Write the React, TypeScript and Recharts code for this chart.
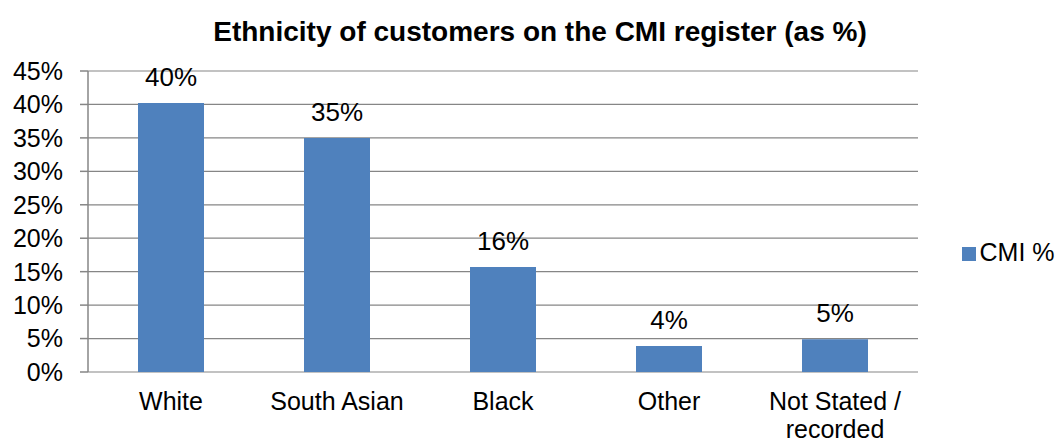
import { BarChart, Bar, XAxis, YAxis, CartesianGrid, Legend, LabelList } from "recharts"

const categories = ["White", "South Asian", "Black", "Other", "Not Stated / recorded"]
const cmiValues = [40.2, 35.0, 15.7, 3.9, 4.9]
const yTicks = [0, 5, 10, 15, 20, 25, 30, 35, 40, 45]
// category boundaries, for the tick marks between bars
const edgeTicks = [0, 1, 2, 3, 4, 5]

const data = categories.map((name, i) => ({ name, cmi: cmiValues[i] }))

const font = "'Liberation Sans', Arial, sans-serif"
const gray = "#868686"
const barColor = "#4F81BD"

function CategoryTick(props: any) {
  const { x, y, payload } = props
  const label: string = payload.value
  const parts = label.split(" / ")
  const lines = parts.length > 1 ? [parts[0] + " /", parts[1]] : [label]
  return (
    <text x={x} y={y} textAnchor="middle" fontSize={25} fontFamily={font} fill="#000">
      {lines.map((l, i) => (
        <tspan key={i} x={x} dy={i === 0 ? "0.71em" : 28}>{l}</tspan>
      ))}
    </text>
  )
}

export default function App() {
  return (
    <div style={{ position: "absolute", left: 0, top: 0, width: 1062, height: 446, background: "#fff", fontFamily: font }}>
      <div style={{ position: "absolute", left: 0, top: 18, width: 1080, textAlign: "center", fontSize: 28, lineHeight: "28px", fontWeight: "bold", color: "#000" }}>
        Ethnicity of customers on the CMI register (as %)
      </div>
      <BarChart width={1062} height={446} data={data} margin={{ top: 71, right: 144, bottom: 0, left: 0 }} barCategoryGap="30%">
        <CartesianGrid vertical={false} stroke={gray} strokeWidth={1.2} />
        <XAxis
          xAxisId={0}
          type="number"
          domain={[0, 5]}
          ticks={edgeTicks}
          allowDataOverflow
          height={0}
          tickSize={8}
          tickFormatter={() => ""}
          axisLine={{ stroke: gray, strokeWidth: 1.5 }}
          tickLine={{ stroke: gray, strokeWidth: 1.5 }}
        />
        <XAxis
          xAxisId="cat"
          dataKey="name"
          height={74}
          axisLine={false}
          tickLine={false}
          tickSize={0}
          tickMargin={20}
          interval={0}
          tick={<CategoryTick />}
        />
        <YAxis
          width={88}
          domain={[0, 45]}
          ticks={yTicks}
          interval={0}
          tickFormatter={(v) => `${v}%`}
          tickSize={8}
          tickMargin={17}
          axisLine={{ stroke: gray, strokeWidth: 1.5 }}
          tickLine={{ stroke: gray, strokeWidth: 1.5 }}
          tick={{ fill: "#000", fontSize: 25, fontFamily: font }}
        />
        <Legend
          layout="horizontal"
          verticalAlign="middle"
          align="center"
          iconType="square"
          iconSize={14}
          formatter={(value) => <span style={{ color: "#000" }}>{value}</span>}
          wrapperStyle={{ left: 958, top: 238, width: 110, height: 32, fontSize: 25, fontFamily: font, textAlign: "left" }}
        />
        <Bar xAxisId="cat" dataKey="cmi" name="CMI %" fill={barColor} barSize={66} isAnimationActive={false}>
          <LabelList
            dataKey="cmi"
            position="top"
            offset={17}
            formatter={(v: any) => `${Math.round(Number(v))}%`}
            fill="#000"
            fontSize={26}
            fontFamily={font}
          />
        </Bar>
      </BarChart>
    </div>
  )
}
